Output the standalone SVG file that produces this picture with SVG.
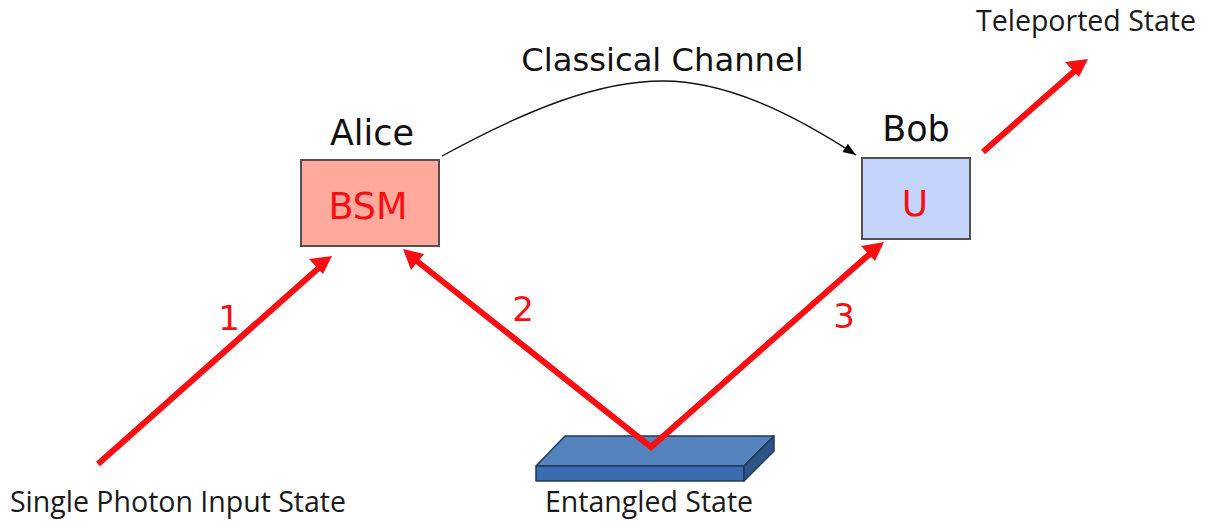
<svg xmlns="http://www.w3.org/2000/svg" width="1205" height="523" viewBox="0 0 1205 523">
<style>
.lbl{font-family:"Open Sans","Noto Sans",sans-serif;font-size:28.5px;fill:#1a1a1a}
.ver{font-family:"DejaVu Sans",sans-serif;fill:#111;font-size:35px}
.red{font-family:"DejaVu Sans",sans-serif;fill:#f80d12}
.dig{font-size:34px}
.r{fill:none;stroke:#fb0d12;stroke-width:6;stroke-linejoin:miter}
.box{stroke:#55504e;stroke-width:2}
.sl{stroke:#1f3a5c;stroke-width:1.5;stroke-linejoin:round}
.ah{fill:#fb0d12}
</style>
<defs>
<marker id="ka" markerUnits="userSpaceOnUse" markerWidth="15" markerHeight="12" refX="13" refY="5" orient="auto"><path d="M0 0L13 5L0 10Z" fill="#000"/></marker>
</defs>
<g id="connectors">
<path d="M442 156C530 108 600 81 663 81C725 81 790 112 856 155" fill="none" stroke="#111" stroke-width="1.4" marker-end="url(#ka)"/>
<path class="r" d="M98 464L322 265"/>
<path class="ah" d="M332 256L323 274L309 259Z"/>
<path class="r" d="M983 152L1078 68"/>
<path class="ah" d="M1088 59L1079 77L1065 62Z"/>
</g>
<g id="entangled">
<path class="sl" d="M565 436H774L744 466H536Z" fill="#5583bd"/>
<path class="sl" d="M536 466H744V481H536Z" fill="#3c6cb0"/>
<path class="sl" d="M744 466L774 436V451L744 481Z" fill="#2f5486"/>
<text class="lbl" x="649" y="512" text-anchor="middle">Entangled State</text>
</g>
<g id="beams">
<path class="r" d="M413 258L651 447L873 251"/>
<path class="ah" d="M403 249L424 254L411 270Z"/>
<path class="ah" d="M884 242L875 261L861 246Z"/>
<text class="red dig" x="229" y="330" text-anchor="middle">1</text>
<text class="red dig" x="523" y="321" text-anchor="middle">2</text>
<text class="red dig" x="844" y="328" text-anchor="middle">3</text>
</g>
<g id="alice">
<rect class="box" x="301" y="160" width="138" height="86" fill="#ffaa9c"/>
<text class="ver" x="372" y="145" text-anchor="middle">Alice</text>
<text class="red" x="368" y="219" font-size="36.5" text-anchor="middle">BSM</text>
</g>
<g id="bob">
<rect class="box" x="862" y="158" width="108" height="81" fill="#c5d4fb"/>
<text class="ver" x="916" y="141" text-anchor="middle">Bob</text>
<text class="red" x="915" y="216" font-size="36" text-anchor="middle">U</text>
</g>
<g id="labels">
<text x="662.500" y="71" style="font-family:'DejaVu Sans',sans-serif;font-size:32.2px;fill:#111" text-anchor="middle">Classical Channel</text>
<text class="lbl" x="178" y="512" text-anchor="middle">Single Photon Input State</text>
<text class="lbl" x="1086" y="31" text-anchor="middle">Teleported State</text>
</g>
</svg>
